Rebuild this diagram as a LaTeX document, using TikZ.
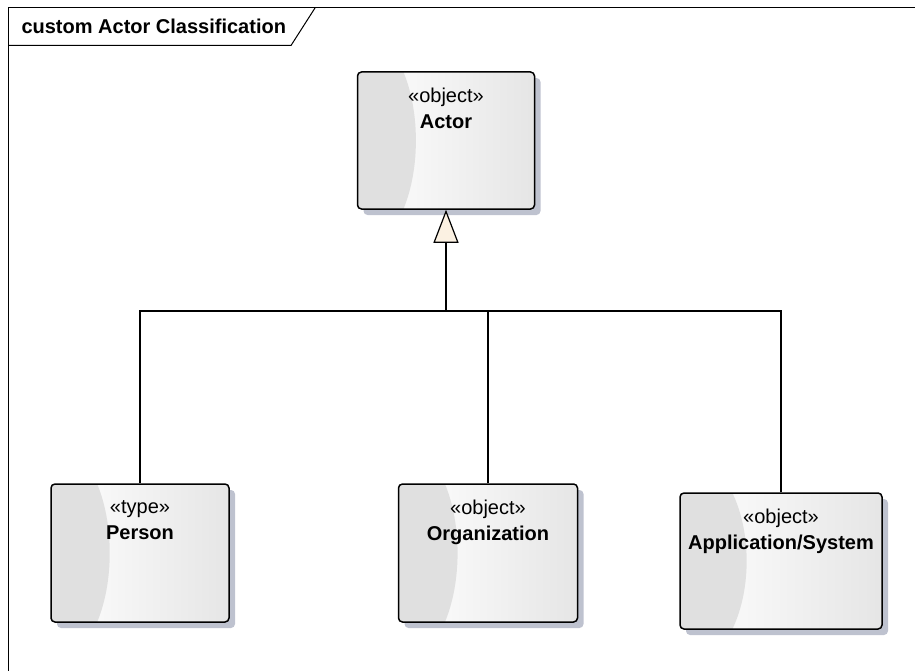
\documentclass[tikz,border=0pt]{standalone}
\usepackage{fontspec}
\setmainfont{Liberation Sans}
\usetikzlibrary{calc,shadows,arrows.meta}
\definecolor{crescgray}{HTML}{E0E0E0}
\definecolor{shadowblue}{HTML}{BEC2CF}
\definecolor{tipcream}{HTML}{FBF1E2}

\tikzset{
  objbox/.style={draw, line width=1.5pt, rounded corners=4pt,
    left color=white, right color=black!10,
    drop shadow={shadow xshift=6pt, shadow yshift=-6pt, fill=shadowblue, opacity=1},
    path picture={\fill[crescgray] let \p1=(path picture bounding box.north east),
      \p2=(path picture bounding box.south west) in
      (path picture bounding box.west) ellipse [x radius={0.33*(\x1-\x2)}, y radius={0.81*(\y1-\y2)}];}},
  objtext/.style={anchor=north, align=center, inner sep=0pt, yshift=-17pt},
  genline/.style={line width=1.2pt},
}

\begin{document}
\begin{tikzpicture}[x=1pt, y=-1pt, font=\fontsize{20}{26}\selectfont]
    \useasboundingbox (0,0) rectangle (915,671);

    % frame
    \draw[line width=1pt] (915,8) -- (8,8) -- (8,671);
    \draw[line width=1pt] (8,45.5) -- (291,45.5) -- (315,8);
    \node[anchor=base west] (title) at (18,34) {\bfseries custom Actor Classification};

    % objects
    \node[objbox, minimum width=177pt, minimum height=137pt,
      label={[objtext]north:{«object»\\\textbf{Actor}}}] (actor) at (446,140.5) {};
    \node[objbox, minimum width=178pt, minimum height=138pt,
      label={[objtext]north:{«type»\\\textbf{Person}}}] (person) at (140,553) {};
    \node[objbox, minimum width=179pt, minimum height=138pt,
      label={[objtext]north:{«object»\\\textbf{Organization}}}] (org) at (488,553) {};
    \node[objbox, minimum width=202pt, minimum height=136pt,
      label={[objtext]north:{«object»\\\textbf{Application/System}}}] (appsys) at (781,561) {};

    % generalization
    \coordinate (junction) at (actor.south |- 0,311);
    \draw[genline, -{Triangle[length=33pt, width=25pt, fill=tipcream]}] (junction) -- (actor.south);
    \draw[genline] (person.north) |- (junction);
    \draw[genline] (org.north) |- (junction);
    \draw[genline] (appsys.north) |- (junction);

\end{tikzpicture}
\end{document}
